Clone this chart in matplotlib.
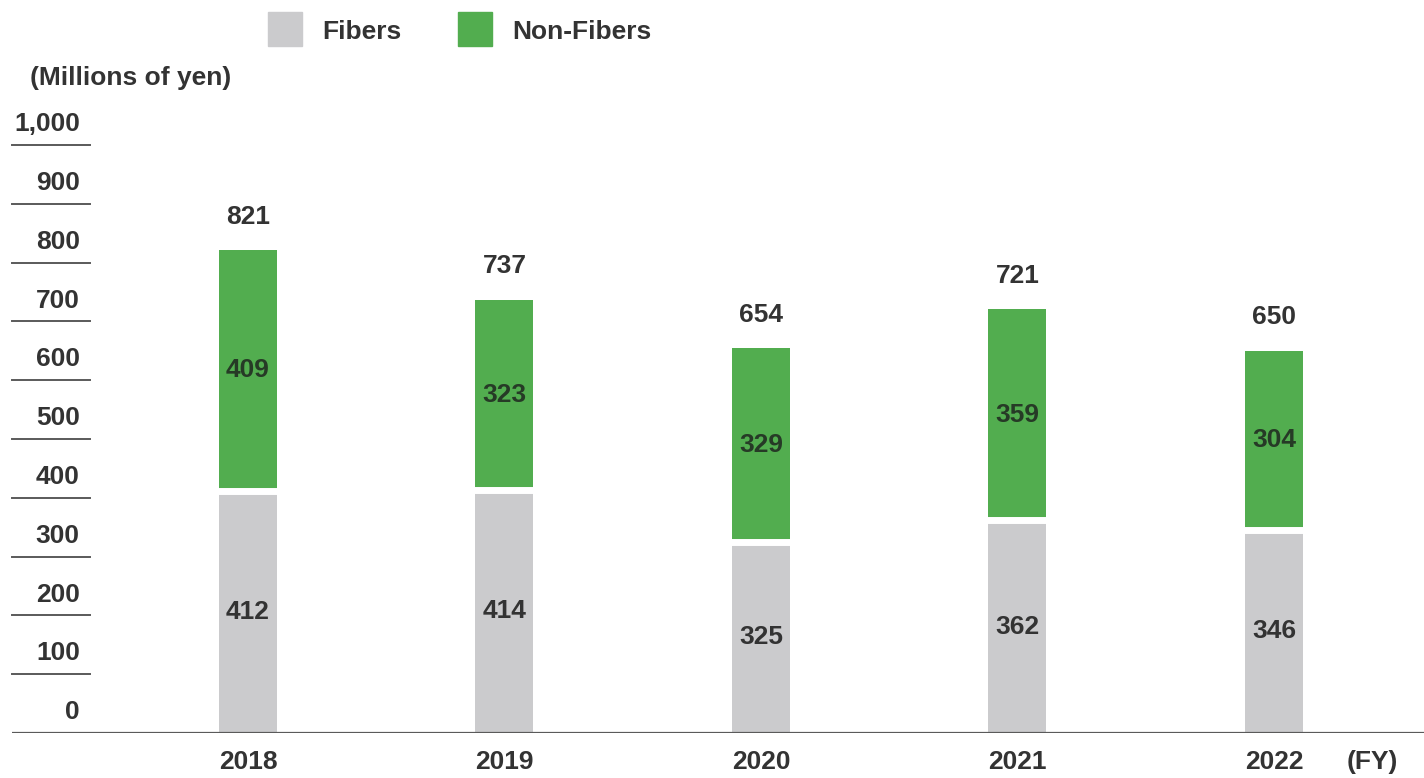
import matplotlib
matplotlib.use('Agg')
import matplotlib.pyplot as plt
from matplotlib.patches import Rectangle

plt.rcParams['font.family'] = ['Liberation Sans', 'DejaVu Sans']

# data
years = ['2018', '2019', '2020', '2021', '2022']
fibers = [412, 414, 325, 362, 346]
non_fibers = [409, 323, 329, 359, 304]
totals = [821, 737, 654, 721, 650]
yticks = [0, 100, 200, 300, 400, 500, 600, 700, 800, 900, 1000]

gray = '#cbcbcd'
green = '#52ad4f'
txt = '#333333'
fs = 19

W, H = 1424, 778
fig = plt.figure(figsize=(W / 100, H / 100), dpi=100)
ax = fig.add_axes([12 / W, 1 - 733 / H, 1412 / W, 617.4 / H])
ax.set_xlim(-0.92, 4.585)
ax.set_ylim(0, 1050)
ax.axis('off')

x = list(range(len(years)))
bw = 0.226
ax.bar(x, fibers, width=bw, color=gray, zorder=2)
ax.bar(x, non_fibers, bottom=fibers, width=bw, color=green, zorder=2)
# white gap between the two segments
ax.hlines(fibers, [i - bw / 2 - 0.01 for i in x], [i + bw / 2 + 0.01 for i in x],
          color='white', linewidth=5, zorder=3)

for i in x:
    ax.text(i, fibers[i] / 2, str(fibers[i]), ha='center', va='center',
            fontsize=fs, fontweight='bold', color=txt, zorder=4)
    ax.text(i, fibers[i] + non_fibers[i] / 2, str(non_fibers[i]), ha='center', va='center',
            fontsize=fs, fontweight='bold', color='#263a26', zorder=4)
    ax.annotate(str(totals[i]), (i, totals[i]), xytext=(0, 24), textcoords='offset points',
                ha='center', va='center', fontsize=fs, fontweight='bold', color=txt)
    ax.annotate(years[i], (i, 0), xytext=(0, -21), textcoords='offset points',
                ha='center', va='center', fontsize=fs, fontweight='bold', color=txt,
                annotation_clip=False)

ax.annotate('(FY)', (4, 0), xytext=(71, -21), textcoords='offset points',
            ha='center', va='center', fontsize=fs, fontweight='bold', color=txt,
            annotation_clip=False)

# baseline
ax.axhline(0, color='#5a5a5a', linewidth=1.6, zorder=5)

# y labels with short rules
yt = ax.get_yaxis_transform()
for v in yticks:
    if v > 0:
        ax.plot([0.0, 0.0555], [v, v], transform=yt, color='#5a5a5a', linewidth=1.4,
                clip_on=False)
    ax.annotate(f'{v:,}', (0.048, v), xycoords=yt, xytext=(0, 15), textcoords='offset points',
                ha='right', va='center', fontsize=fs, fontweight='bold', color=txt,
                annotation_clip=False)

fig.text(30 / W, 1 - 78 / H, '(Millions of yen)', ha='left', va='center',
         fontsize=fs, fontweight='bold', color=txt)

# legend
for x0, col, lab in [(268, gray, 'Fibers'), (458, green, 'Non-Fibers')]:
    fig.patches.append(Rectangle((x0 / W, 1 - 46 / H), 34 / W, 34 / H, color=col,
                                 transform=fig.transFigure, figure=fig))
    fig.text((x0 + 54) / W, 1 - 32 / H, lab, ha='left', va='center',
             fontsize=fs, fontweight='bold', color=txt)

fig.savefig('out.png', dpi=100)
